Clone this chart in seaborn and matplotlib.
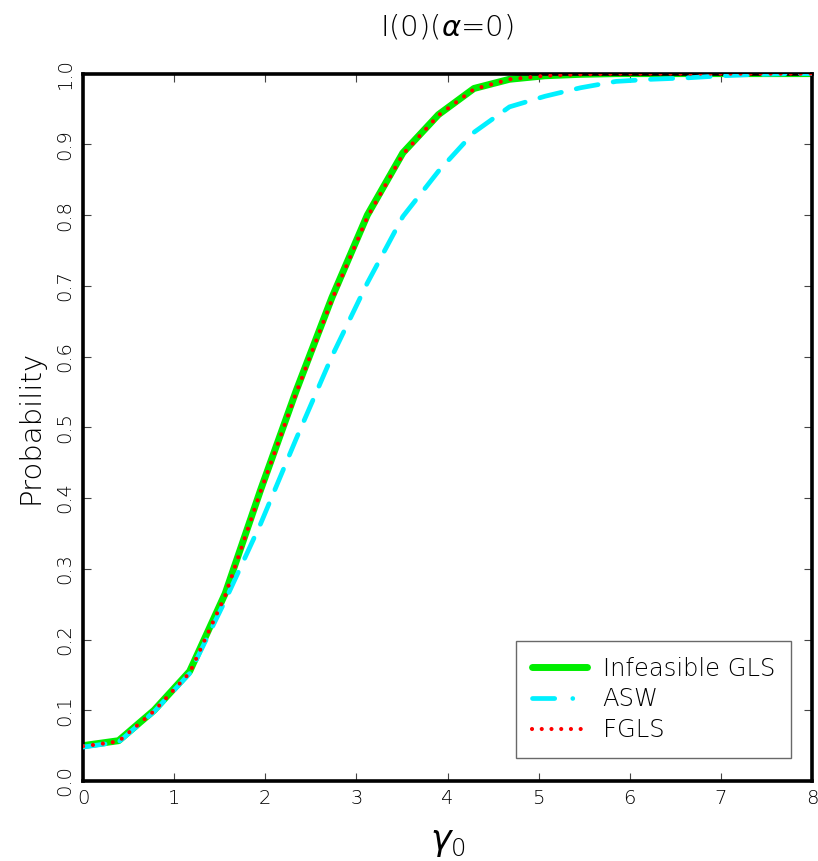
import numpy as np
import pandas as pd
import matplotlib
matplotlib.use("Agg")
import matplotlib.pyplot as plt
import seaborn as sns
from matplotlib.lines import Line2D

# ---- data ----
gamma0 = [0.00, 0.39, 0.78, 1.17, 1.56, 1.95, 2.34, 2.73, 3.12, 3.51, 3.90,
          4.29, 4.68, 5.07, 5.46, 5.85, 6.24, 6.63, 7.02, 7.41, 7.80, 8.19]
infeasible_gls = [0.050, 0.057, 0.100, 0.155, 0.265, 0.412, 0.552, 0.683, 0.800, 0.888, 0.942,
                  0.979, 0.992, 0.997, 0.999, 1.000, 1.000, 1.000, 1.000, 1.000, 1.000, 1.000]
asw = [0.048, 0.055, 0.098, 0.152, 0.255, 0.364, 0.484, 0.600, 0.704, 0.798, 0.862,
       0.917, 0.953, 0.968, 0.980, 0.989, 0.992, 0.994, 0.997, 0.999, 1.000, 1.000]
fgls = [0.049, 0.056, 0.099, 0.153, 0.262, 0.410, 0.549, 0.680, 0.797, 0.886, 0.941,
        0.978, 0.992, 0.997, 0.999, 1.000, 1.000, 1.000, 1.000, 1.000, 1.000, 1.000]
series_names = ["Infeasible GLS", "ASW", "FGLS"]
xticks = [0, 1, 2, 3, 4, 5, 6, 7, 8]
yticks = [0.0, 0.1, 0.2, 0.3, 0.4, 0.5, 0.6, 0.7, 0.8, 0.9, 1.0]
title = r"I(0)($\alpha$=0)"

sns.set_style("white")
plt.rcParams["font.family"] = ["DejaVu Sans"]
plt.rcParams["lines.scale_dashes"] = False
plt.rcParams["text.color"] = "black"
plt.rcParams["axes.labelcolor"] = "black"
plt.rcParams["xtick.color"] = "black"
plt.rcParams["ytick.color"] = "black"
plt.rcParams["mathtext.fontset"] = "custom"
plt.rcParams["mathtext.rm"] = "DejaVu Sans:light"
plt.rcParams["mathtext.it"] = "DejaVu Sans:italic:light"
plt.rcParams["mathtext.bf"] = "DejaVu Sans:bold"
plt.rcParams["mathtext.default"] = "it"
FW = "light"

df = pd.DataFrame({"gamma0": gamma0, "Infeasible GLS": infeasible_gls,
                   "ASW": asw, "FGLS": fgls})

fig = plt.figure(figsize=(8.18, 8.61), dpi=100)
ax = fig.add_axes([0.1015, 0.0929, 0.8912, 0.8216])

sns.lineplot(data=df, x="gamma0", y="Infeasible GLS", ax=ax, color="#00ee00",
             lw=5.0, solid_capstyle="round", solid_joinstyle="round", zorder=2)
l2 = sns.lineplot(data=df, x="gamma0", y="ASW", ax=ax, color="#00f0ff",
                  lw=3.4, zorder=3).lines[-1]
l2.set_dashes((16, 11))
l2.set_dash_capstyle("round")
l3 = sns.lineplot(data=df, x="gamma0", y="FGLS", ax=ax, color="#ff0000",
                  lw=3.0, zorder=4).lines[-1]
l3.set_dashes((0.01, 7.2))
l3.set_dash_capstyle("round")

ax.set_xlim(0, 8)
ax.set_ylim(0, 1)
ax.set_xticks(xticks)
ax.set_yticks(yticks)
ax.set_xticklabels([str(v) for v in xticks], fontsize=14, fontweight=FW)
ax.set_yticklabels([f"{v:.1f}" for v in yticks], fontsize=14, fontweight=FW,
                   rotation=90, va="center")
ax.tick_params(direction="in", length=6, width=0.8, color="#444444",
               labelcolor="black", top=True, right=True, bottom=True,
               left=True, pad=6)
for s in ax.spines.values():
    s.set_visible(True)
    s.set_color("black")
    s.set_linewidth(2.6)

ax.set_xlabel(r"$\gamma_0$", fontsize=25, labelpad=12, color="black")
ax.set_ylabel("Probability", fontsize=21, fontweight=FW, labelpad=8,
              color="black")
fig.text(447 / 818, 1 - 27 / 861, title, ha="center", va="center",
         fontsize=21, fontweight=FW, color="black")

handles = [
    Line2D([], [], color="#00ee00", lw=5.0, solid_capstyle="round"),
    Line2D([], [], color="#00f0ff", lw=3.4, dashes=(16, 13, 0.01, 60),
           dash_capstyle="round"),
    Line2D([], [], color="#ff0000", lw=3.0, dashes=(0.01, 7.0),
           dash_capstyle="round"),
]
leg = ax.legend(handles, series_names, loc="lower right",
                bbox_to_anchor=(0.971, 0.0325), frameon=True, fancybox=False,
                prop={"size": 17.5, "weight": FW}, handlelength=2.26,
                handletextpad=0.66, labelspacing=0.28, borderpad=0.65,
                borderaxespad=0.0)
leg.get_frame().set_edgecolor("#444444")
leg.get_frame().set_linewidth(1.0)
for t in leg.get_texts():
    t.set_color("black")

fig.savefig("out.png", dpi=100)
